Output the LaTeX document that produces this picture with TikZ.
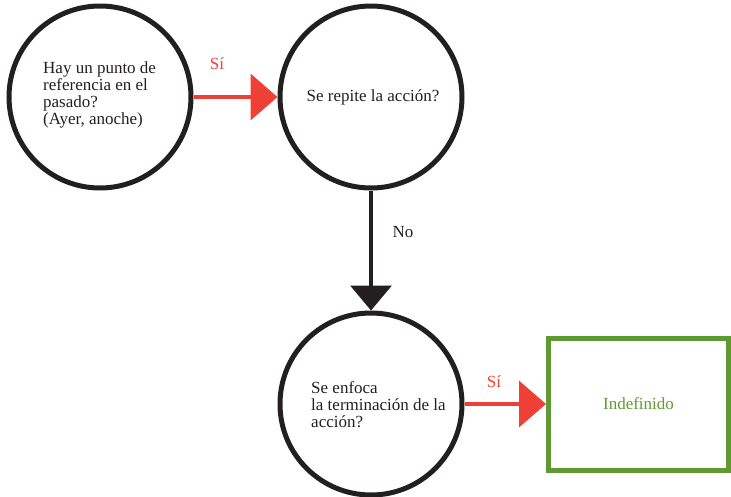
\documentclass[tikz,border=0pt]{standalone}
\usepackage{fontspec}
\setmainfont{Liberation Serif}
\usetikzlibrary{arrows.meta}
\definecolor{flowred}{RGB}{238,64,54}
\definecolor{flowgreen}{RGB}{96,153,52}
\definecolor{flowblack}{RGB}{35,31,32}
\begin{document}
\begin{tikzpicture}[x=1pt,y=-1pt,
  question/.style={circle, draw=flowblack, line width=5pt, minimum size=182pt, inner sep=0pt},
  qtext/.style={align=left, inner sep=0pt, anchor=north west, text=flowblack,
    font=\fontsize{17}{17}\selectfont},
  answer/.style={rectangle, draw=flowgreen, line width=5pt, minimum width=180pt,
    minimum height=132pt, inner sep=0pt, text=flowgreen, font=\fontsize{17}{17}\selectfont},
  yesarrow/.style={draw=flowred, line width=4pt, -{Triangle[length=27pt,width=46pt]}, fill=flowred},
  noarrow/.style={draw=flowblack, line width=3.5pt, -{Triangle[length=25pt,width=41pt]}, fill=flowblack},
  yeslabel/.style={text=flowred, font=\fontsize{17}{17}\selectfont, inner sep=0pt},
  nolabel/.style={text=flowblack, font=\fontsize{17}{17}\selectfont, inner sep=0pt}
]
\useasboundingbox (0,0) rectangle (731,496);

% decision circles
\node[question] (q1) at (100,97) {};
\node[question] (q2) at (371,97) {};
\node[question] (q3) at (371,404) {};

% question texts
\node[qtext] (t1) at (43,61) {Hay un punto de\\referencia en el\\pasado?\\(Ayer, anoche)};
\node[text=flowblack, inner sep=0pt, font=\fontsize{17}{17}\selectfont] (t2) at (373,97) {Se repite la acción?};
\node[qtext] (t3) at (311,381) {Se enfoca\\la terminación de la\\acción?};

% result box
\node[answer] (r1) at (638.5,404) {Indefinido};

% connectors
\draw[yesarrow] (q1.east) -- (q2.west);
\draw[noarrow] (q2.south) -- (q3.north);
\draw[yesarrow] (q3.east) -- (r1.west);

% connector labels
\node[yeslabel] (l1) at (217,64) {Sí};
\node[nolabel] (l2) at (403,232) {No};
\node[yeslabel] (l3) at (494,382) {Sí};
\end{tikzpicture}
\end{document}
